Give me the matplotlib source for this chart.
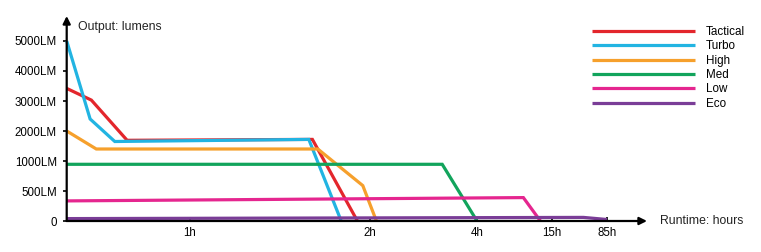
import matplotlib

matplotlib.use("Agg")
import matplotlib.pyplot as plt
import numpy as np

plt.rcParams["font.family"] = ["Liberation Sans", "DejaVu Sans"]

# runtime in hours, output in lumens
tactical_h = [0, 0.20, 0.49, 1.68, 1.93]
tactical_lm = [3420, 3030, 1690, 1720, 0]
turbo_h = [0, 0.19, 0.39, 1.66, 1.84]
turbo_lm = [5000, 2400, 1650, 1720, 0]
high_h = [0, 0.24, 1.71, 1.96, 2.12]
high_lm = [2000, 1400, 1400, 590, 0]
med_h = [0, 3.35, 4.0]
med_lm = [945, 945, 0]
low_h = [0, 10.8, 13.3]
low_lm = [335, 390, 0]
eco_h = [0, 55, 85]
eco_lm = [40, 60, 25]

series = [
    ("Tactical", tactical_h, tactical_lm, "#e3262c"),
    ("Turbo", turbo_h, turbo_lm, "#22b4e2"),
    ("High", high_h, high_lm, "#f6a02c"),
    ("Med", med_h, med_lm, "#12a45c"),
    ("Low", low_h, low_lm, "#e5268f"),
    ("Eco", eco_h, eco_lm, "#7a3d97"),
]

x_ticks = [1, 2, 4, 15, 85]
x_labels = ["1h", "2h", "4h", "15h", "85h"]
y_ticks = [0, 500, 1000, 2000, 3000, 4000, 5000]
y_labels = ["0", "500LM", "1000LM", "2000LM", "3000LM", "4000LM", "5000LM"]

# piecewise (non-linear) axis scales as drawn on the original
X_BREAKS = [0, 1, 2, 4, 15, 85, 300]
X_POS = [0, 123.3, 303.3, 410.3, 485.3, 540.3, 600]
Y_BREAKS = [0, 500, 1000, 2000, 3000, 4000, 5000, 6000]
Y_POS = [0, 1, 2, 3, 4, 5, 6, 7]


def x_fwd(v):
    return np.interp(v, X_BREAKS, X_POS)


def x_inv(v):
    return np.interp(v, X_POS, X_BREAKS)


def y_fwd(v):
    return np.interp(v, Y_BREAKS, Y_POS)


def y_inv(v):
    return np.interp(v, Y_POS, Y_BREAKS)


fig = plt.figure(figsize=(7.61, 2.52), dpi=100)
ax = fig.add_axes([66.7 / 761, 31 / 252, (647 - 66.7) / 761, (221 - 16) / 252])

ax.set_xscale("function", functions=(x_fwd, x_inv))
ax.set_yscale("function", functions=(y_fwd, y_inv))
ax.set_xlim(0, x_inv(580.3))
ax.set_ylim(0, y_inv((221 - 16) / 30.0))

for name, h, lm, color in series:
    ax.plot(h, lm, color=color, lw=2.3, label=name, solid_capstyle="butt",
            solid_joinstyle="miter", clip_on=False, zorder=3)

for s in ax.spines.values():
    s.set_visible(False)

ax.annotate("", xy=(1.0, 0), xytext=(0, 0), xycoords="axes fraction",
            arrowprops=dict(arrowstyle="-|>", lw=1.6, color="black",
                            mutation_scale=11, shrinkA=0, shrinkB=0), zorder=4)
ax.annotate("", xy=(0, 1.0), xytext=(0, 0), xycoords="axes fraction",
            arrowprops=dict(arrowstyle="-|>", lw=1.6, color="black",
                            mutation_scale=11, shrinkA=0, shrinkB=0), zorder=4)

ax.set_xticks(x_ticks)
ax.set_xticklabels(x_labels)
ax.set_yticks(y_ticks)
ax.set_yticklabels(y_labels)
ax.minorticks_off()
ax.tick_params(axis="both", length=3, width=1.2, labelsize=8.3, colors="black",
               pad=4)
ax.tick_params(axis="x", direction="in", pad=4)

ax.text(0.02, 0.946, "Output: lumens", transform=ax.transAxes, fontsize=8.8,
        ha="left", va="center", color="#222")
ax.text(1.022, 0.0, "Runtime: hours", transform=ax.transAxes, fontsize=8.8,
        ha="left", va="center", color="#222")

leg = fig.legend(loc="upper left", bbox_to_anchor=(592 / 761, 1 - 26 / 252),
                 frameon=False, fontsize=8.4, handlelength=8.8,
                 handletextpad=0.95, labelspacing=0.2, borderpad=0,
                 borderaxespad=0)
for line in leg.get_lines():
    line.set_linewidth(2.3)

fig.savefig("out.png", dpi=100, facecolor="white")
